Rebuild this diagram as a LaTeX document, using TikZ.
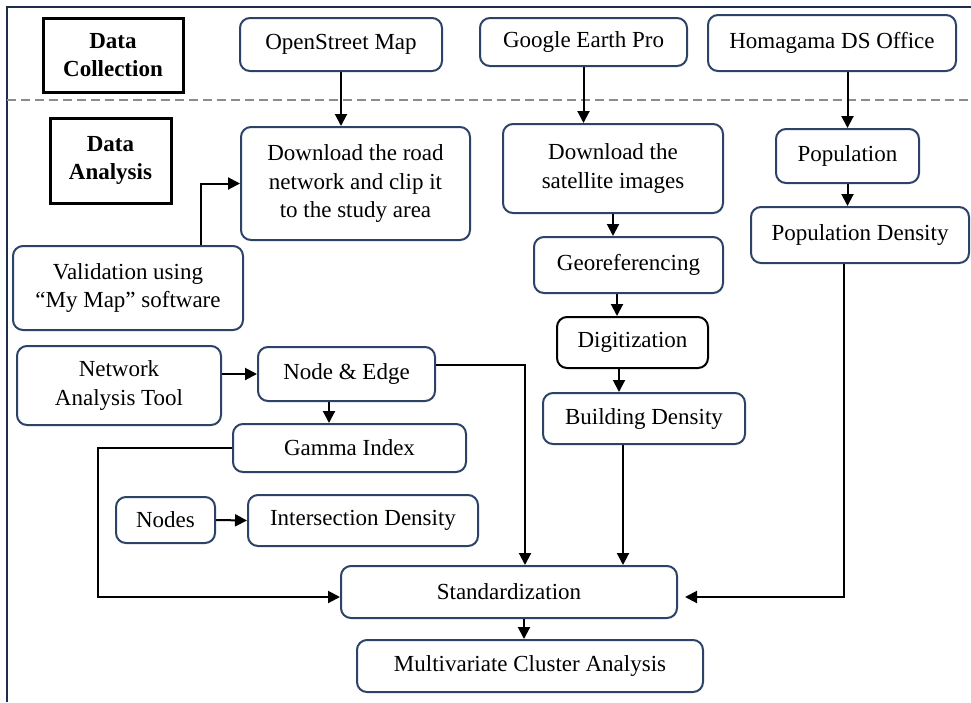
\documentclass[tikz,border=0pt]{standalone}
\usepackage{fontspec}
\setmainfont{Liberation Serif}
\usetikzlibrary{arrows.meta,calc}
\definecolor{navy}{RGB}{44,66,102}
\definecolor{framec}{RGB}{30,45,75}
\begin{document}
\begin{tikzpicture}[x=1pt,y=-1pt,
  box/.style={draw=navy,line width=2pt,rounded corners=10pt,align=center,inner sep=0pt,font=\fontsize{23}{28.5}\selectfont},
  hbox/.style={draw=black,line width=3pt,align=center,inner sep=0pt,font=\bfseries\fontsize{23}{28.5}\selectfont},
  arr/.style={line width=2pt,-{Triangle[length=12pt,width=12pt]}}]
\useasboundingbox (0,0) rectangle (971,702);
\fill[white] (0,0) rectangle (971,702);
% frame and separator
\draw[framec,line width=2pt] (7,702) -- (7,7) -- (971,7);
\draw[gray!90,line width=1.5pt,dash pattern=on 9pt off 5pt] (7,100) -- (971,100);
% headings
\node[hbox,minimum width=140pt,minimum height=74pt] (dc) at (113,55) {Data\\Collection};
\node[hbox,minimum width=121pt,minimum height=85pt] (da) at (110.5,160.5) {Data\\Analysis};
% sources
\node[box,minimum width=202pt,minimum height=53pt] (osm) at (341,44.5) {OpenStreet Map};
\node[box,minimum width=207pt,minimum height=48pt] (gep) at (583.5,42) {Google Earth Pro};
\node[box,minimum width=248pt,minimum height=56pt] (hds) at (832,43) {Homagama DS Office};
% analysis
\node[box,minimum width=229pt,minimum height=113pt] (road) at (355.5,183.5) {Download the road\\network and clip it\\to the study area};
\node[box,minimum width=220pt,minimum height=89pt] (sat) at (613,168.5) {Download the\\satellite images};
\node[box,minimum width=143pt,minimum height=54pt] (pop) at (847.5,156) {Population};
\node[box,minimum width=218pt,minimum height=56pt] (popd) at (860,235) {Population Density};
\node[box,minimum width=189pt,minimum height=56pt] (geo) at (628.5,265) {Georeferencing};
\node[box,draw=black,minimum width=151pt,minimum height=51pt] (dig) at (632.5,342.5) {Digitization};
\node[box,minimum width=202pt,minimum height=51pt] (bld) at (644,418.5) {Building Density};
\node[box,minimum width=230pt,minimum height=84pt] (val) at (128,288) {Validation using\\“My Map” software};
\node[box,minimum width=204pt,minimum height=79pt] (nat) at (119,385.5) {Network\\Analysis Tool};
\node[box,minimum width=177pt,minimum height=54pt] (ne) at (346.5,374) {Node \& Edge};
\node[box,minimum width=233pt,minimum height=48pt] (gam) at (349.5,448) {Gamma Index};
\node[box,minimum width=99pt,minimum height=46pt] (nodes) at (165.5,520) {Nodes};
\node[box,minimum width=230pt,minimum height=51pt] (inter) at (363,520.5) {Intersection Density};
\node[box,minimum width=336pt,minimum height=52pt] (std) at (509,592) {Standardization};
\node[box,minimum width=346pt,minimum height=52pt] (mca) at (530,666) {Multivariate Cluster Analysis};
% helper coordinates
\coordinate (xgd) at (617,0);
\coordinate (xdb) at (619,0);
\coordinate (xbs) at (623,0);
\coordinate (xne) at (329,0);
\coordinate (xsm) at (524,0);
\coordinate (xval) at (201,0);
\coordinate (nex) at (525,365);
\coordinate (gcorner) at (98,597);
\coordinate (pcorner) at (844,597);
% connectors
\draw[arr] (osm.south) -- (osm.south |- road.north);
\draw[arr] (gep.south) -- (gep.south |- sat.north);
\draw[arr] (pop.north |- hds.south) -- (pop.north);
\draw[arr] (pop.south) -- (pop.south |- popd.north);
\draw[arr] (sat.south) -- (sat.south |- geo.north);
\draw[arr] (geo.south -| xgd) -- (dig.north -| xgd);
\draw[arr] (dig.south -| xdb) -- (bld.north -| xdb);
\draw[arr] (bld.south -| xbs) -- (std.north -| xbs);
\draw[arr] (val.north -| xval) |- (road.west);
\draw[arr] (nat.east |- ne.west) -- (ne.west);
\draw[arr] (ne.south -| xne) -- (gam.north -| xne);
\draw[arr] (ne.east |- nex) -| (std.north -| nex);
\draw[arr] (gam.west) -| (gcorner) -- (std.west |- gcorner);
\draw[arr] (nodes.east) -- (inter.west);
\draw[arr] (popd.south -| pcorner) -- (pcorner) -- ($(std.east |- pcorner)+(7,0)$);
\draw[arr] (std.south -| xsm) -- (mca.north -| xsm);
\end{tikzpicture}
\end{document}
